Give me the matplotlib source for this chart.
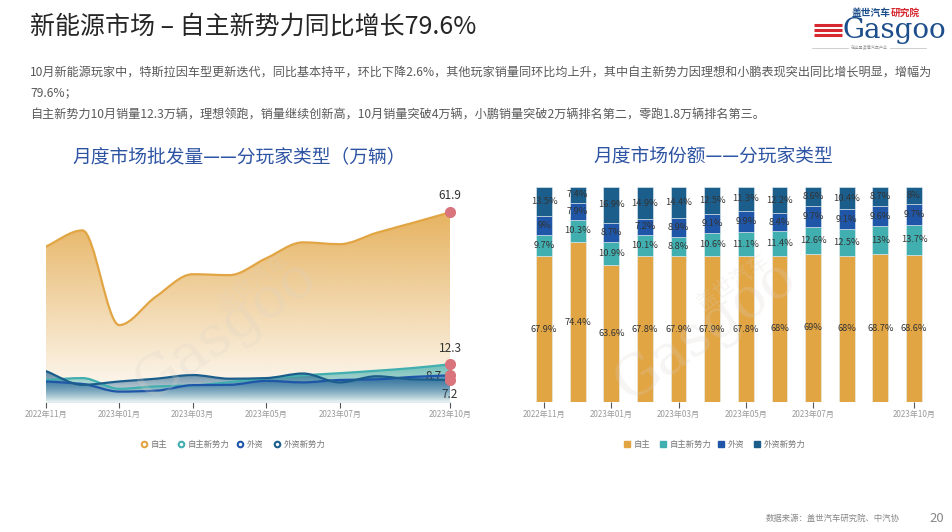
import matplotlib
matplotlib.use("Agg")
import matplotlib.pyplot as plt
from matplotlib.colors import to_rgb
from matplotlib.patches import PathPatch
from matplotlib.path import Path
import numpy

plt.rcParams["font.family"] = ["Noto Sans CJK SC", "DejaVu Sans"]

W, H = 952, 532

MONTHS = [
    "2022年11月", "2022年12月", "2023年01月", "2023年02月", "2023年03月", "2023年04月",
    "2023年05月", "2023年06月", "2023年07月", "2023年08月", "2023年09月", "2023年10月",
]
TICK_IDX = [0, 2, 4, 6, 8, 11]
SERIES = ["自主", "自主新势力", "外资", "外资新势力"]
COLORS = ["#E2A544", "#41AFAF", "#1F56A8", "#1B5E8C"]

# 月度批发量（万辆）
VOL_ZIZHU = [50.7, 56.0, 25.1, 34.4, 41.7, 41.4, 46.9, 52.1, 51.5, 55.2, 58.5, 61.9]
VOL_ZIZHU_NEW = [7.2, 7.8, 4.3, 5.1, 5.4, 6.5, 7.7, 8.7, 9.4, 10.2, 11.1, 12.3]
VOL_WAIZI = [6.7, 5.9, 3.4, 3.7, 5.5, 5.6, 6.9, 6.4, 7.2, 7.4, 8.2, 8.7]
VOL_WAIZI_NEW = [10.1, 5.6, 6.7, 7.6, 8.8, 7.6, 7.8, 9.3, 6.4, 8.4, 7.4, 7.2]

# 市场份额（%）
SHARE_ZIZHU = [67.9, 74.4, 63.6, 67.8, 67.9, 67.9, 67.8, 68, 69, 68, 68.7, 68.6]
SHARE_ZIZHU_NEW = [9.7, 10.3, 10.9, 10.1, 8.8, 10.6, 11.1, 11.4, 12.6, 12.5, 13, 13.7]
SHARE_WAIZI = [9, 7.9, 8.7, 7.2, 8.9, 9.1, 9.9, 8.4, 9.7, 9.1, 9.6, 9.7]
SHARE_WAIZI_NEW = [13.5, 7.4, 16.9, 14.9, 14.4, 12.5, 11.3, 12.2, 8.6, 10.4, 8.7, 8]

TITLE = "新能源市场 – 自主新势力同比增长79.6%"
BODY = [
    "10月新能源玩家中，特斯拉因车型更新迭代，同比基本持平，环比下降2.6%，其他玩家销量同环比均上升，其中自主新势力因理想和小鹏表现突出同比增长明显，增幅为",
    "79.6%；",
    "自主新势力10月销量12.3万辆，理想领跑，销量继续创新高，10月销量突破4万辆，小鹏销量突破2万辆排名第二，零跑1.8万辆排名第三。",
]


def px_axes(fig, left, top, right, bottom):
    return fig.add_axes([left / W, 1 - bottom / H, (right - left) / W, (bottom - top) / H])


def smooth_path(xs, ys, close=False):
    # monotone cubic bezier, flat at local peaks like the source chart
    xs = numpy.asarray(xs, dtype=float)
    ys = numpy.asarray(ys, dtype=float)
    n = len(xs)
    d = numpy.diff(ys) / numpy.diff(xs)
    m = numpy.zeros(n)
    m[0], m[-1] = d[0], d[-1]
    for i in range(1, n - 1):
        if d[i - 1] * d[i] > 0:
            m[i] = 2 * d[i - 1] * d[i] / (d[i - 1] + d[i])
    verts = [(xs[0], ys[0])]
    codes = [Path.MOVETO]
    for i in range(n - 1):
        h = (xs[i + 1] - xs[i]) / 3
        verts += [(xs[i] + h, ys[i] + m[i] * h), (xs[i + 1] - h, ys[i + 1] - m[i + 1] * h),
                  (xs[i + 1], ys[i + 1])]
        codes += [Path.CURVE4] * 3
    if close:
        verts += [(xs[-1], 0), (xs[0], 0), (xs[0], 0)]
        codes += [Path.LINETO, Path.LINETO, Path.CLOSEPOLY]
    return Path(verts, codes)


def gradient_area(ax, xs, ys, color, a_top, a_bot, zorder):
    patch = PathPatch(smooth_path(xs, ys, close=True), facecolor="none", edgecolor="none")
    ax.add_patch(patch)
    g = numpy.zeros((256, 1, 4))
    g[..., :3] = to_rgb(color)
    g[..., 3] = numpy.linspace(a_top, a_bot, 256)[:, None]
    im = ax.imshow(g, extent=(xs[0], xs[-1], 0, max(ys)), aspect="auto",
                   origin="upper", interpolation="bilinear", zorder=zorder)
    im.set_clip_path(patch)


fig = plt.figure(figsize=(W / 100, H / 100), dpi=100)
fig.patch.set_facecolor("white")

# ---- left: volume area chart
ax1 = px_axes(fig, 45.7, 187.5, 450, 402)
x = numpy.arange(len(MONTHS))
vols = [VOL_ZIZHU, VOL_ZIZHU_NEW, VOL_WAIZI, VOL_WAIZI_NEW]
fills = [(0.85, 0.03), (0.75, 0.1), (0.55, 0.0), (0.7, 0.0)]
for k, (v, c, fa) in enumerate(zip(vols, COLORS, fills)):
    gradient_area(ax1, x, v, c, fa[0], fa[1], 1 + k)
for k, (v, c) in enumerate(zip(vols, COLORS)):
    ax1.add_patch(PathPatch(smooth_path(x, v), facecolor="none", edgecolor=c,
                            lw=1.6, zorder=6 + k, capstyle="round"))
    ax1.plot(x[-1], v[-1], "o", ms=7, color="#D9737C", zorder=11, clip_on=False)
ax1.text(x[-1], VOL_ZIZHU[-1] + 3.5, f"{VOL_ZIZHU[-1]:g}", ha="center", va="bottom",
         fontsize=8.5, color="#333333")
ax1.text(x[-1], VOL_ZIZHU_NEW[-1] + 3, f"{VOL_ZIZHU_NEW[-1]:g}", ha="center", va="bottom",
         fontsize=8.5, color="#333333")
ax1.text(x[-1] - 0.22, VOL_WAIZI[-1] - 0.5, f"{VOL_WAIZI[-1]:g}", ha="right", va="center",
         fontsize=8.5, color="#333333")
ax1.text(x[-1], VOL_WAIZI_NEW[-1] - 2.5, f"{VOL_WAIZI_NEW[-1]:g}", ha="center", va="top",
         fontsize=8.5, color="#333333")
ax1.set_xlim(0, 11)
ax1.set_ylim(0, 70)
ax1.set_yticks([])
ax1.set_xticks(TICK_IDX)
ax1.set_xticklabels([MONTHS[i] for i in TICK_IDX])
for s in ["left", "right", "top"]:
    ax1.spines[s].set_visible(False)
ax1.spines["bottom"].set_color("#E3E9F0")
ax1.tick_params(axis="x", length=4, width=0.8, color="#555555", labelcolor="#9A9A9A",
                labelsize=5.8, pad=1.5)
ax1.patch.set_alpha(0)

# ---- right: share stacked bars
ax2 = px_axes(fig, 527.2, 187, 930.8, 402)
shares = [SHARE_ZIZHU, SHARE_ZIZHU_NEW, SHARE_WAIZI, SHARE_WAIZI_NEW]
bottom = numpy.zeros(len(MONTHS))
for s, c in zip(shares, COLORS):
    s = numpy.array(s, dtype=float)
    ax2.bar(x, s, width=0.47, bottom=bottom, color=c, edgecolor="#E6EEF2", lw=0.4, zorder=2)
    for xi, b, v in zip(x, bottom, s):
        ax2.text(xi, b + v / 2, f"{v:g}%", ha="center", va="center", fontsize=6.7,
                 color="#333333", zorder=4)
    bottom += s
ax2.set_xlim(-0.5, 11.5)
ax2.set_ylim(0, 100)
ax2.set_yticks([])
ax2.set_xticks(TICK_IDX)
ax2.set_xticklabels([MONTHS[i] for i in TICK_IDX])
for s in ["left", "right", "top", "bottom"]:
    ax2.spines[s].set_visible(False)
ax2.tick_params(axis="x", length=4, width=0.8, color="#555555", labelcolor="#9A9A9A",
                labelsize=5.8, pad=1.5)
ax2.patch.set_alpha(0)

# ---- overlay for page text (pixel coordinates)
ov = fig.add_axes([0, 0, 1, 1], zorder=20)
ov.set_xlim(0, W)
ov.set_ylim(H, 0)
ov.axis("off")
ov.patch.set_alpha(0)

ov.text(30, 27, TITLE, fontsize=18, color="#262626", va="center", ha="left")
for y, line in zip([72, 93, 115], BODY):
    ov.text(30, y, line, fontsize=8.7, color="#595959", va="center", ha="left")

ov.text(239, 157, "月度市场批发量——分玩家类型（万辆）", fontsize=13.5, color="#2D53A3",
        ha="center", va="center")
ov.text(713, 157, "月度市场份额——分玩家类型", fontsize=13.5, color="#2D53A3",
        ha="center", va="center")

# legends
for mx, name, c in zip([144, 181, 240, 277], SERIES, COLORS):
    ov.plot(mx, 444, "o", ms=4, mfc="white", mec=c, mew=1.5)
    ov.text(mx + 7, 444, name, fontsize=6, color="#777777", va="center", ha="left")
for mx, name, c in zip([627, 663, 721, 757], SERIES, COLORS):
    ov.plot(mx, 444, "s", ms=4, color=c)
    ov.text(mx + 7, 444, name, fontsize=6, color="#777777", va="center", ha="left")

# watermarks
for cx, cy in [(225, 330), (705, 330)]:
    ov.text(cx, cy, "Gasgoo", fontsize=40, color="#D8D2CB", alpha=0.22, rotation=35,
            ha="center", va="center", family="DejaVu Serif")
    ov.text(cx + 28, cy - 48, "盖世汽车", fontsize=15, color="#D8D2CB", alpha=0.22,
            rotation=35, ha="center", va="center")

# logo
ov.text(852, 13, "盖世汽车", fontsize=7, color="#1C4E8C", weight="bold", ha="left", va="center")
ov.text(891, 13, "研究院", fontsize=7, color="#D7282F", weight="bold", ha="left", va="center")
ov.text(946, 31, "Gasgoo", fontsize=20, color="#1C4E8C", ha="right", va="center",
        family="DejaVu Serif")
for yy in [25, 30, 35]:
    ov.plot([814, 842], [yy, yy], color="#D7282F", lw=2.2, solid_capstyle="butt")
ov.plot([812, 848], [48, 48], color="#BBBBBB", lw=0.5)
ov.plot([890, 926], [48, 48], color="#BBBBBB", lw=0.5)
ov.text(869, 48, "在这里读懂汽车产业", fontsize=3, color="#999999", ha="center", va="center")

# footer
ov.text(900, 518, "数据来源：盖世汽车研究院、中汽协", fontsize=6, color="#888888",
        ha="right", va="center", style="italic")
ov.text(937, 519, "20", fontsize=9.5, color="#888888", ha="center", va="center")

fig.savefig("out.png", dpi=100)
